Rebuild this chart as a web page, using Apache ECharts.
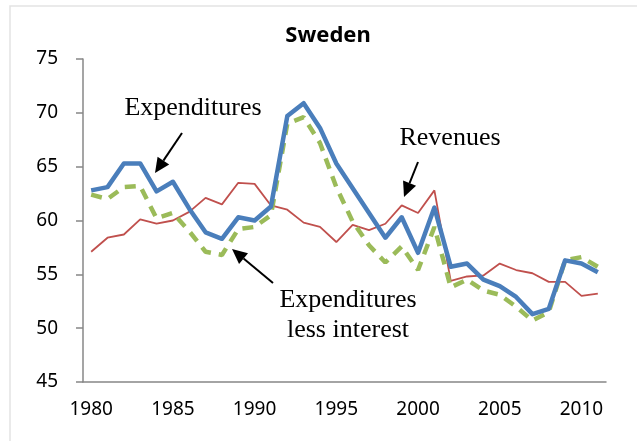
<!DOCTYPE html>
<html>
<head>
<meta charset="utf-8">
<script src="https://cdn.jsdelivr.net/npm/echarts@6/dist/echarts.min.js"></script>
<style>
  html, body { margin: 0; padding: 0; background: #fff; }
  #chart { width: 637px; height: 441px; }
</style>
</head>
<body>
<div id="chart"></div>
<script>
// years on the x axis
const years = [];
for (let y = 1980; y <= 2011; y++) years.push(String(y));

// % of GDP
const expenditures = [62.8, 63.1, 65.3, 65.3, 62.7, 63.6, 61.1, 58.9, 58.3, 60.3, 60.0, 61.3,
  69.7, 70.9, 68.6, 65.3, 63.0, 60.7, 58.4, 60.3, 57.0, 61.2, 55.7, 56.0, 54.5, 53.9, 52.9,
  51.3, 51.8, 56.3, 56.0, 55.2];
const lessInterest = [62.4, 62.0, 63.1, 63.2, 60.2, 60.7, 59.0, 57.1, 56.8, 59.2, 59.4, 60.5,
  69.0, 69.6, 67.2, 63.1, 59.9, 57.7, 56.1, 57.6, 55.4, 59.4, 53.8, 54.5, 53.5, 53.1, 52.0,
  50.7, 51.5, 56.3, 56.6, 55.7];
const revenues = [57.1, 58.4, 58.7, 60.1, 59.7, 60.0, 60.8, 62.1, 61.5, 63.5, 63.4, 61.4,
  61.0, 59.8, 59.4, 58.0, 59.6, 59.1, 59.7, 61.4, 60.7, 62.8, 54.4, 54.8, 54.9, 56.0, 55.4,
  55.1, 54.3, 54.3, 53.0, 53.2];

const serif = 'Liberation Serif';
const sans = 'Noto Sans';

// arrow = line + filled head
function arrow(x1, y1, x2, y2) {
  const a = Math.atan2(y2 - y1, x2 - x1);
  const len = 15, w = 7;
  const bx = x2 - len * Math.cos(a), by = y2 - len * Math.sin(a);
  const px = -Math.sin(a) * w, py = Math.cos(a) * w;
  return [
    { type: 'line', silent: true, shape: { x1: x1, y1: y1, x2: bx, y2: by },
      style: { stroke: '#000', lineWidth: 2 } },
    { type: 'polygon', silent: true,
      shape: { points: [[x2, y2], [bx + px, by + py], [bx - px, by - py]] },
      style: { fill: '#000' } }
  ];
}

function label(text, x, y) {
  return { type: 'text', x: x, y: y, silent: true,
    style: { text: text, font: '26px "' + serif + '"', fill: '#000',
      align: 'center', verticalAlign: 'middle', lineHeight: 30 } };
}

const chart = echarts.init(document.getElementById('chart'));
chart.setOption({
  animation: false,
  grid: { left: 83, right: 31, top: 59, bottom: 59 },
  xAxis: {
    type: 'category',
    data: years,
    axisLine: { lineStyle: { color: '#878787', width: 1.5 } },
    axisTick: { interval: 0, length: 7, lineStyle: { color: '#878787', width: 1.5 } },
    axisLabel: { interval: 4, margin: 18, color: '#000', fontFamily: sans, fontSize: 19 }
  },
  yAxis: {
    type: 'value',
    min: 45, max: 75, interval: 5,
    splitLine: { show: false },
    axisLine: { show: true, lineStyle: { color: '#878787', width: 1.5 } },
    axisTick: { show: true, length: 7, lineStyle: { color: '#878787', width: 1.5 } },
    axisLabel: { margin: 25, color: '#000', fontFamily: sans, fontSize: 19 }
  },
  series: [
    { name: 'Revenues', type: 'line', data: revenues, showSymbol: false,
      lineStyle: { color: '#C0504D', width: 1.8 } },
    { name: 'Expenditures less interest', type: 'line', data: lessInterest, showSymbol: false,
      lineStyle: { color: '#9BBB59', width: 4.5, type: [11, 8] } },
    { name: 'Expenditures', type: 'line', data: expenditures, showSymbol: false,
      lineStyle: { color: '#4A7EBB', width: 4.5, join: 'round' } }
  ],
  graphic: [
    { type: 'rect', silent: true, shape: { x: 10, y: 6, width: 700, height: 500 },
      style: { fill: 'none', stroke: '#e3e3e3', lineWidth: 1.5 } },
    { type: 'text', x: 328, y: 36, silent: true,
      style: { text: 'Sweden', font: 'bold 22px "' + sans + '"', fill: '#000',
        align: 'center', verticalAlign: 'middle' } },
    label('Expenditures', 193, 108),
    label('Revenues', 450, 138),
    label('Expenditures\nless interest', 348, 315)
  ].concat(arrow(182, 133, 155, 173), arrow(418, 162, 404, 197), arrow(273, 283, 232, 249))
});
</script>
</body>
</html>
